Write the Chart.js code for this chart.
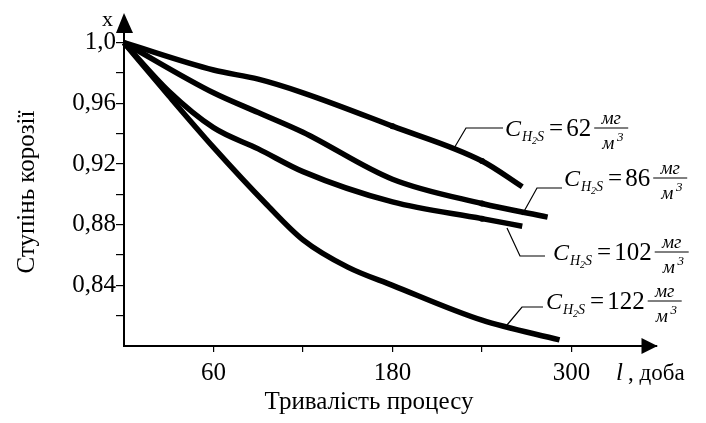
<!DOCTYPE html>
<html>
<head>
<meta charset="utf-8">
<script src="https://cdn.jsdelivr.net/npm/chart.js@4/dist/chart.umd.min.js"></script>
<style>
  html,body{margin:0;padding:0;background:#fff;}
  #wrap{width:706px;height:423px;position:relative;}
</style>
</head>
<body>
<div id="wrap"><canvas id="ch"></canvas></div>
<script>
// ступінь корозії vs тривалість, доба
const days62  = [0, 60, 90, 120, 180, 240, 267];
const vals62  = [1.0, 0.982, 0.976, 0.967, 0.945, 0.922, 0.905];
const days86  = [0, 60, 90, 120, 180, 240, 284];
const vals86  = [1.0, 0.967, 0.954, 0.941, 0.910, 0.894, 0.885];
const days102 = [0, 30, 60, 90, 120, 180, 240, 267];
const vals102 = [1.0, 0.968, 0.944, 0.930, 0.915, 0.895, 0.884, 0.879];
const days122 = [0, 30, 60, 95, 120, 150, 180, 240, 292];
const vals122 = [1.0, 0.965, 0.931, 0.894, 0.870, 0.852, 0.840, 0.817, 0.804];

const xTicks = [60, 120, 180, 240, 300];
const xLabels = [60, 180, 300];
const yTicks = [0.82, 0.84, 0.86, 0.88, 0.90, 0.92, 0.94, 0.96, 0.98, 1.0];
const yLabels = [0.84, 0.88, 0.92, 0.96, 1.0];
const concs = ['62', '86', '102', '122'];

const SERIF='"Liberation Serif","DejaVu Serif",serif';

function pts(xs,ys){return xs.map((x,i)=>({x,y:ys[i]}));}
function ds(xs,ys,marks){
    return {
        data:pts(xs,ys),
        borderColor:'#000',
        backgroundColor:'#000',
        borderWidth:5.5,
        cubicInterpolationMode:'monotone',
        pointRadius:xs.map(x=>marks.includes(x)?3:0),
        pointBorderWidth:0,
        clip:false,
        fill:false
    };
}

// leader lines + label anchors (annotation layout)
const tags=[
    {num:concs[0], line:[[453,150],[466,128],[503,128]], x:505, y:136},
    {num:concs[1], line:[[522,215],[537,188],[562,188]], x:564, y:186},
    {num:concs[2], line:[[507,228],[520,256],[545,256]], x:553, y:260},
    {num:concs[3], line:[[507,325],[522,307],[543,307]], x:546, y:309}
];

function drawTag(ctx,t){
    ctx.save();
    ctx.strokeStyle='#000'; ctx.lineWidth=1.2;
    ctx.beginPath();
    t.line.forEach((p,i)=>i?ctx.lineTo(p[0],p[1]):ctx.moveTo(p[0],p[1]));
    ctx.stroke();
    ctx.fillStyle='#000'; ctx.textBaseline='alphabetic'; ctx.textAlign='left';
    let x=t.x;
    ctx.font='italic 24px '+SERIF;
    ctx.fillText('C',x,t.y); x+=ctx.measureText('C').width+1;
    ctx.font='italic 14px '+SERIF;
    ctx.fillText('H',x,t.y+5); x+=ctx.measureText('H').width;
    ctx.font='italic 10px '+SERIF;
    ctx.fillText('2',x,t.y+8); x+=ctx.measureText('2').width;
    ctx.font='italic 14px '+SERIF;
    ctx.fillText('S',x,t.y+5); x+=ctx.measureText('S').width+5;
    ctx.font='25px '+SERIF;
    ctx.fillText('=',x,t.y); x+=ctx.measureText('=').width+3;
    ctx.fillText(t.num,x,t.y); x+=ctx.measureText(t.num).width+3;
    // fraction мг / м³
    const fw=34, fy=t.y-8;
    ctx.beginPath(); ctx.moveTo(x,fy); ctx.lineTo(x+fw,fy); ctx.lineWidth=1; ctx.stroke();
    ctx.font='italic 19px '+SERIF;
    ctx.textAlign='center';
    ctx.fillText('мг',x+fw/2,fy-4);
    ctx.fillText('м',x+fw/2-3,fy+21);
    ctx.font='italic 13px '+SERIF;
    ctx.fillText('3',x+fw/2+9,fy+13);
    ctx.restore();
}

const decor={
    id:'decor',
    afterDraw(chart){
        const ctx=chart.ctx, a=chart.chartArea;
        ctx.save();
        ctx.fillStyle='#000';
        // arrow on y axis
        ctx.beginPath();
        ctx.moveTo(a.left,a.top-7); ctx.lineTo(a.left-8,a.top+13); ctx.lineTo(a.left+9,a.top+13); ctx.closePath(); ctx.fill();
        // arrow on x axis
        ctx.beginPath();
        ctx.moveTo(a.right+1,a.bottom); ctx.lineTo(a.right-15,a.bottom-8); ctx.lineTo(a.right-15,a.bottom+8); ctx.closePath(); ctx.fill();
        // axis names
        ctx.font='22px '+SERIF; ctx.textAlign='left'; ctx.textBaseline='alphabetic';
        ctx.fillText('x',102,26);
        ctx.font='italic 25px '+SERIF;
        ctx.fillText('l',616,380);
        ctx.font='23px '+SERIF;
        ctx.fillText(', доба',628,380);
        ctx.font='25px '+SERIF; ctx.textAlign='center';
        ctx.fillText('Тривалість процесу',369,409);
        ctx.save();
        ctx.translate(27,192); ctx.rotate(-Math.PI/2);
        ctx.font='25px '+SERIF; ctx.textBaseline='middle';
        ctx.fillText('Ступінь корозії',0,0);
        ctx.restore();
        ctx.restore();
        tags.forEach(t=>drawTag(ctx,t));
    }
};

new Chart(document.getElementById('ch'),{
    type:'line',
    data:{datasets:[
        ds(days62,vals62,[180,240]),
        ds(days86,vals86,[240]),
        ds(days102,vals102,[240]),
        ds(days122,vals122,[])
    ]},
    options:{
        responsive:true, maintainAspectRatio:false, animation:false,
        layout:{padding:{top:20,right:49.5,left:0,bottom:0}},
        plugins:{legend:{display:false},tooltip:{enabled:false}},
        scales:{
            x:{
                type:'linear', min:0, max:357,
                afterFit:s=>{s.height=77;},
                afterBuildTicks:s=>{s.ticks=xTicks.map(v=>({value:v}));},
                ticks:{
                    color:'#000', font:{family:SERIF,size:25}, padding:6, maxRotation:0, autoSkip:false,
                    callback:v=>xLabels.includes(v)?String(v):''
                },
                grid:{drawOnChartArea:false, drawTicks:true, tickLength:6, color:'#000', lineWidth:1.2},
                border:{display:true, color:'#000', width:2}
            },
            y:{
                type:'linear', min:0.8, max:1.015,
                afterFit:s=>{s.width=124;},
                afterBuildTicks:s=>{s.ticks=yTicks.map(v=>({value:v}));},
                ticks:{
                    color:'#000', font:{family:SERIF,size:25}, padding:0, autoSkip:false,
                    callback:v=>{
                        if (!yLabels.some(l=>Math.abs(l-v)<1e-6)) return '';
                        return Math.abs(v-1)<1e-6?'1,0':v.toFixed(2).replace('.',',');
                    }
                },
                grid:{drawOnChartArea:false, drawTicks:true, tickLength:8, color:'#000', lineWidth:1.2},
                border:{display:true, color:'#000', width:2}
            }
        }
    },
    plugins:[decor]
});
</script>
</body>
</html>
